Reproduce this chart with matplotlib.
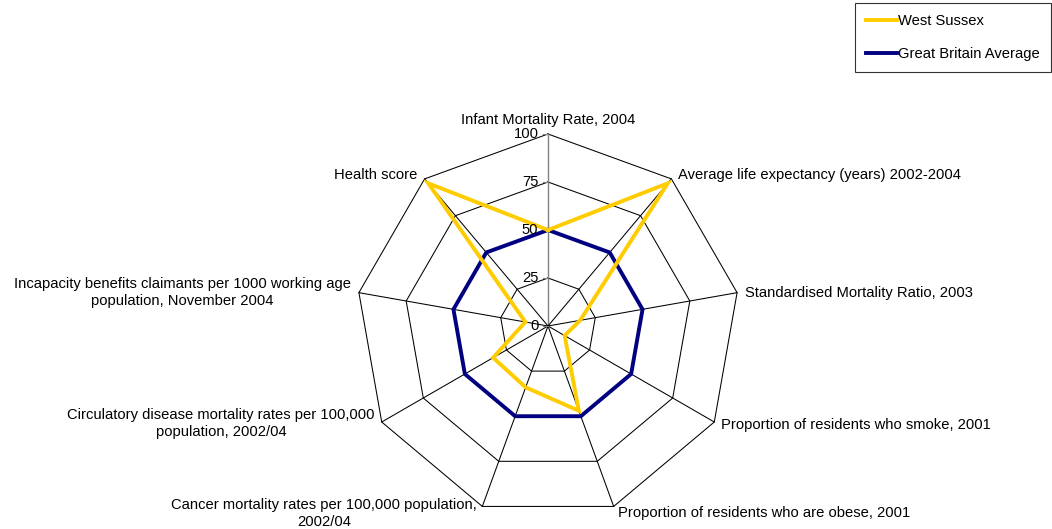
import numpy as np
import matplotlib
matplotlib.use("Agg")
import matplotlib.pyplot as plt

plt.rcParams['font.family'] = ['Liberation Sans', 'DejaVu Sans']

categories = [
    "Infant Mortality Rate, 2004",
    "Average life expectancy (years) 2002-2004",
    "Standardised Mortality Ratio, 2003",
    "Proportion of residents who smoke, 2001",
    "Proportion of residents who are obese, 2001",
    "Cancer mortality rates per 100,000 population,\n2002/04",
    "Circulatory disease mortality rates per 100,000\npopulation, 2002/04",
    "Incapacity benefits claimants per 1000 working age\npopulation, November 2004",
    "Health score",
]
west_sussex = [50, 97, 17, 10, 47, 34, 33, 12, 97]
gb_average = [50, 50, 50, 50, 50, 50, 50, 50, 50]
ticks = [0, 25, 50, 75, 100]
series_names = ["West Sussex", "Great Britain Average"]

FS = 10.6
W, H = 1052, 529
fig = plt.figure(figsize=(W / 100, H / 100), dpi=100)
ax = fig.add_axes([0, 0, 1, 1])
scale = 1.92  # px per unit
cx, cy = 548, 326
ax.set_xlim(-cx / scale, (W - cx) / scale)
ax.set_ylim(-(H - cy) / scale, cy / scale)
ax.set_aspect('equal')
ax.axis('off')

n = len(categories)
ang = np.deg2rad(np.arange(n) * 360.0 / n)
ux, uy = np.sin(ang), np.cos(ang)

# rings
for t in ticks[1:]:
    xs = np.append(ux * t, ux[0] * t)
    ys = np.append(uy * t, uy[0] * t)
    ax.plot(xs, ys, color='black', lw=0.75, zorder=1)
# spokes
for i in range(n):
    col = '#808080' if i == 0 else 'black'
    ax.plot([0, ux[i] * 100], [0, uy[i] * 100], color=col, lw=0.75 if i else 1.0, zorder=1)
# value-axis tick marks & labels
for t in ticks:
    ax.plot([-2.5, 0], [t, t], color='#808080', lw=0.8, zorder=1)
    ax.text(-5.0, t, str(t), ha='right', va='center', fontsize=FS, zorder=4)

# series
ws = west_sussex + west_sussex[:1]
gb = gb_average + gb_average[:1]
angs = np.append(ang, ang[0])
l2, = ax.plot(np.sin(angs) * np.array(gb), np.cos(angs) * np.array(gb), color='#000080', lw=2.8, zorder=2, solid_joinstyle='miter')
l1, = ax.plot(np.sin(angs) * np.array(ws), np.cos(angs) * np.array(ws), color='#FFCC00', lw=2.8, zorder=3, solid_joinstyle='miter')

# category labels
offs = [(0, 5, 'center', 'bottom'), (5, 3, 'left', 'center'), (6, 0, 'left', 'center'),
        (5, -2, 'left', 'center'), (3, -5, 'left', 'center'), (-4, -5, 'right', 'center'),
        (-5, -1, 'right', 'center'), (-6, 0, 'right', 'center'), (-5, 3, 'right', 'center')]
for i, lab in enumerate(categories):
    dx, dy, ha, va = offs[i]
    ax.annotate(lab, (ux[i] * 100, uy[i] * 100), xytext=(dx, dy), textcoords='offset points',
                ha=ha, va=va, fontsize=FS, multialignment='center', linespacing=1.25, zorder=4)

leg = fig.legend([l1, l2], series_names, loc='upper right',
                 bbox_to_anchor=(1051 / W, 1 - 3 / H), fontsize=FS, frameon=True,
                 fancybox=False, edgecolor='black', handlelength=2.1, handletextpad=0.1,
                 labelspacing=1.3, borderpad=0.75, borderaxespad=0)
leg.get_frame().set_linewidth(0.8)

fig.savefig('out.png', dpi=100)
